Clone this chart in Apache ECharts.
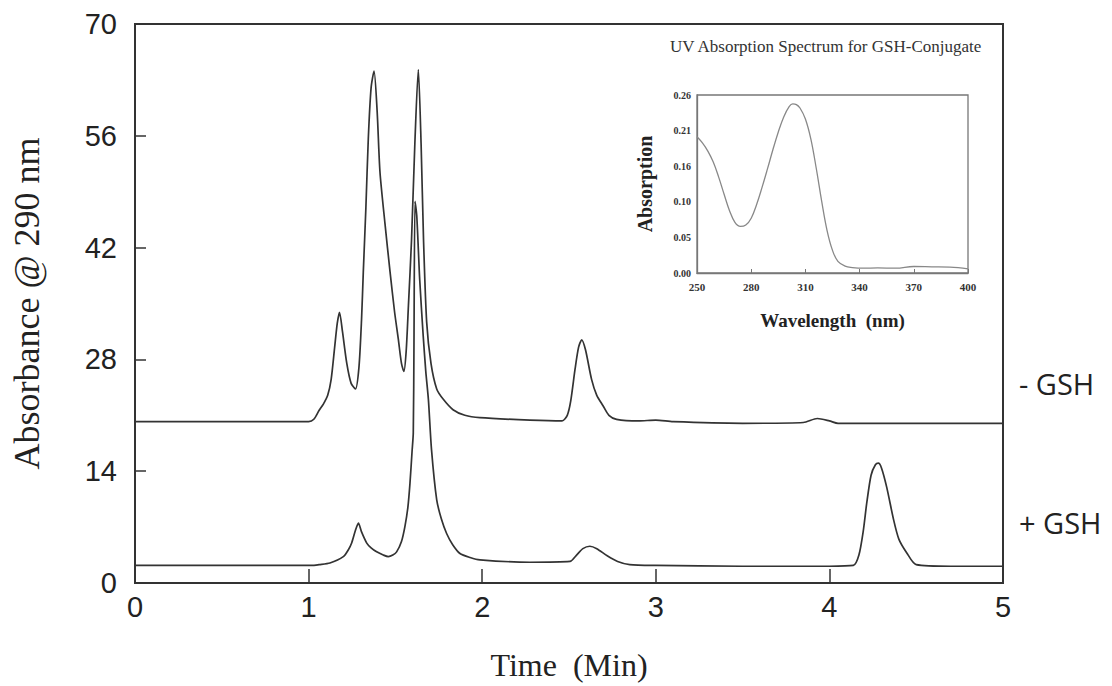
<!DOCTYPE html>
<html><head><meta charset="utf-8">
<script src="https://cdn.jsdelivr.net/npm/echarts@6/dist/echarts.min.js"></script>
<style>html,body{margin:0;padding:0;background:#fff}#c{width:1112px;height:686px}</style>
</head><body><div id="c"></div>
<script>
// ---- main chromatogram data ----
const minusGshTime = [0,0.5,1.0,1.03,1.06,1.085,1.11,1.13,1.15,1.165,1.178,1.195,1.22,1.245,1.27,1.29,1.305,1.315,1.33,1.344,1.36,1.377,1.395,1.411,1.44,1.469,1.495,1.517,1.535,1.549,1.562,1.575,1.593,1.612,1.632,1.648,1.662,1.68,1.705,1.738,1.776,1.832,1.9,1.987,2.275,2.46,2.49,2.51,2.535,2.555,2.573,2.595,2.63,2.66,2.696,2.73,2.774,2.9,3.0,3.1,3.5,3.85,3.93,4.0,4.05,4.5,5.0];
const minusGshAbs  = [20.2,20.2,20.2,20.5,21.6,22.4,23.5,25.5,29.5,32.5,33.9,31.5,27.5,25.0,24.3,27,33,38.9,47,55.7,62,64.1,59,51.5,45,39,34,30.5,27.5,26.5,29,34.7,43,55,64.3,55,43,32.7,27.5,24.3,23,21.7,21,20.7,20.4,20.3,21.0,22.8,26.8,29.5,30.45,29.2,25.5,23.5,22.2,21.0,20.5,20.3,20.4,20.2,20.0,20.1,20.6,20.3,20.0,20.0,20.0];
const plusGshTime  = [0,0.5,1.018,1.06,1.123,1.2,1.23,1.248,1.27,1.287,1.305,1.335,1.36,1.392,1.43,1.459,1.485,1.507,1.535,1.555,1.572,1.584,1.596,1.603,1.607,1.613,1.623,1.64,1.66,1.675,1.69,1.708,1.738,1.765,1.795,1.83,1.872,1.93,1.987,2.275,2.506,2.54,2.58,2.62,2.66,2.72,2.78,2.85,3.0,3.5,4.0,4.138,4.17,4.195,4.215,4.24,4.265,4.282,4.3,4.33,4.37,4.4,4.445,4.5,4.7,5.0];
const plusGshAbs   = [2.2,2.2,2.2,2.3,2.5,3.3,4.2,5.0,6.6,7.5,6.4,5.0,4.4,3.9,3.5,3.3,3.5,3.9,5.2,7.1,9.5,12.5,16.5,18.8,30,47.8,46,38,31,26.5,23,16.7,10.4,8.0,6.2,4.8,3.7,3.2,2.9,2.6,2.7,3.4,4.3,4.6,4.3,3.4,2.7,2.3,2.2,2.1,2.1,2.2,3.5,6.5,10,13.5,14.8,15.0,14.4,12,7.9,5.5,3.8,2.3,2.1,2.1];
const timeRange = [0, 5];
const absRange = [0, 70];
const traceLabels = ['- GSH', '+ GSH'];

// ---- inset UV spectrum data ----
const uvWavelength = [250,253,256,259,262,265,268,271,274,277,280,283,286,289,292,295,298,301,303,305,307,310,313,316,319,322,325,328,332,336,342,350,360,370,380,390,400];
const uvAbsorption = [0.199,0.190,0.178,0.162,0.140,0.115,0.091,0.074,0.068,0.070,0.080,0.100,0.125,0.152,0.180,0.206,0.228,0.243,0.247,0.246,0.241,0.225,0.196,0.153,0.105,0.062,0.033,0.017,0.010,0.008,0.007,0.0075,0.007,0.0095,0.009,0.0085,0.006];
const uvWaveMin = 250, uvWaveMax = 400, uvWaveStep = 30;
const uvAbsMax = 0.26, uvAbsStep = 0.052;

const pairs = (xs, ys) => xs.map((x, i) => [x, ys[i]]);
const serif = '"Liberation Serif","DejaVu Serif",serif';
const sans = '"Liberation Sans",Arial,sans-serif';

const chart = echarts.init(document.getElementById('c'), null, {renderer: 'svg'});
chart.setOption({
  animation: false,
  backgroundColor: '#fff',
  grid: [
    {left: 135, right: 109, top: 24, bottom: 103, show: true, borderColor: '#333', borderWidth: 2, backgroundColor: 'transparent'},
    {left: 697, right: 144, top: 95, bottom: 413, show: true, borderColor: '#777', borderWidth: 1.3, backgroundColor: 'transparent'}
  ],
  xAxis: [
    {type: 'value', gridIndex: 0, min: timeRange[0], max: timeRange[1], interval: 1,
     name: 'Time  (Min)', nameLocation: 'middle', nameGap: 66,
     nameTextStyle: {fontFamily: serif, fontSize: 32, color: '#222'},
     axisLine: {show: true, onZero: false, lineStyle: {color: '#333', width: 2}},
     axisTick: {show: true, inside: true, length: 14, lineStyle: {color: '#333', width: 1.5}},
     axisLabel: {fontFamily: sans, fontSize: 29, color: '#222', margin: 9},
     splitLine: {show: false}},
    {type: 'value', gridIndex: 1, min: 0, max: uvWaveMax - uvWaveMin, interval: uvWaveStep,
     name: 'Wavelength  (nm)', nameLocation: 'middle', nameGap: 38,
     nameTextStyle: {fontFamily: serif, fontSize: 19, fontWeight: 'bold', color: '#222'},
     axisLine: {show: true, onZero: false, lineStyle: {color: '#777', width: 1.3}},
     axisTick: {show: true, inside: true, length: 4, lineStyle: {color: '#777'}},
     axisLabel: {fontFamily: serif, fontSize: 11, fontWeight: 'bold', color: '#333', margin: 8,
                 formatter: v => String(v + uvWaveMin)},
     splitLine: {show: false}}
  ],
  yAxis: [
    {type: 'value', gridIndex: 0, min: absRange[0], max: absRange[1], interval: 14,
     name: 'Absorbance @ 290 nm', nameLocation: 'middle', nameGap: 90,
     nameTextStyle: {fontFamily: serif, fontSize: 36, color: '#222'},
     axisLine: {show: true, onZero: false, lineStyle: {color: '#333', width: 2}},
     axisTick: {show: true, inside: true, length: 11, lineStyle: {color: '#333', width: 1.5}},
     axisLabel: {fontFamily: sans, fontSize: 29, color: '#222', margin: 18},
     splitLine: {show: false}},
    {type: 'value', gridIndex: 1, min: 0, max: uvAbsMax, interval: uvAbsStep,
     name: 'Absorption', nameLocation: 'middle', nameGap: 42,
     nameTextStyle: {fontFamily: serif, fontSize: 20, fontWeight: 'bold', color: '#222'},
     axisLine: {show: true, onZero: false, lineStyle: {color: '#777', width: 1.3}},
     axisTick: {show: false},
     axisLabel: {fontFamily: serif, fontSize: 10, fontWeight: 'bold', color: '#333', margin: 6,
                 formatter: v => v.toFixed(2)},
     splitLine: {show: false}}
  ],
  series: [
    {type: 'line', name: traceLabels[0], xAxisIndex: 0, yAxisIndex: 0, data: pairs(minusGshTime, minusGshAbs),
     showSymbol: false, smooth: 0.25, lineStyle: {color: '#333', width: 1.7}},
    {type: 'line', name: traceLabels[1], xAxisIndex: 0, yAxisIndex: 0, data: pairs(plusGshTime, plusGshAbs),
     showSymbol: false, smooth: 0.25, lineStyle: {color: '#333', width: 1.7}},
    {type: 'line', name: 'UV', xAxisIndex: 1, yAxisIndex: 1, data: pairs(uvWavelength.map(w => w - uvWaveMin), uvAbsorption),
     showSymbol: false, smooth: 0.4, lineStyle: {color: '#888', width: 1.3}}
  ],
  graphic: [
    {type: 'text', left: 1019, top: 369, style: {text: traceLabels[0], fontFamily: '"Open Sans",sans-serif', fontSize: 29, fill: '#222'}},
    {type: 'text', left: 1019, top: 508, style: {text: traceLabels[1], fontFamily: '"Open Sans",sans-serif', fontSize: 29, fill: '#222'}},
    {type: 'text', left: 670, top: 38, style: {text: 'UV Absorption Spectrum for GSH-Conjugate', fontFamily: serif, fontSize: 17, fill: '#333'}}
  ]
});
</script></body></html>
